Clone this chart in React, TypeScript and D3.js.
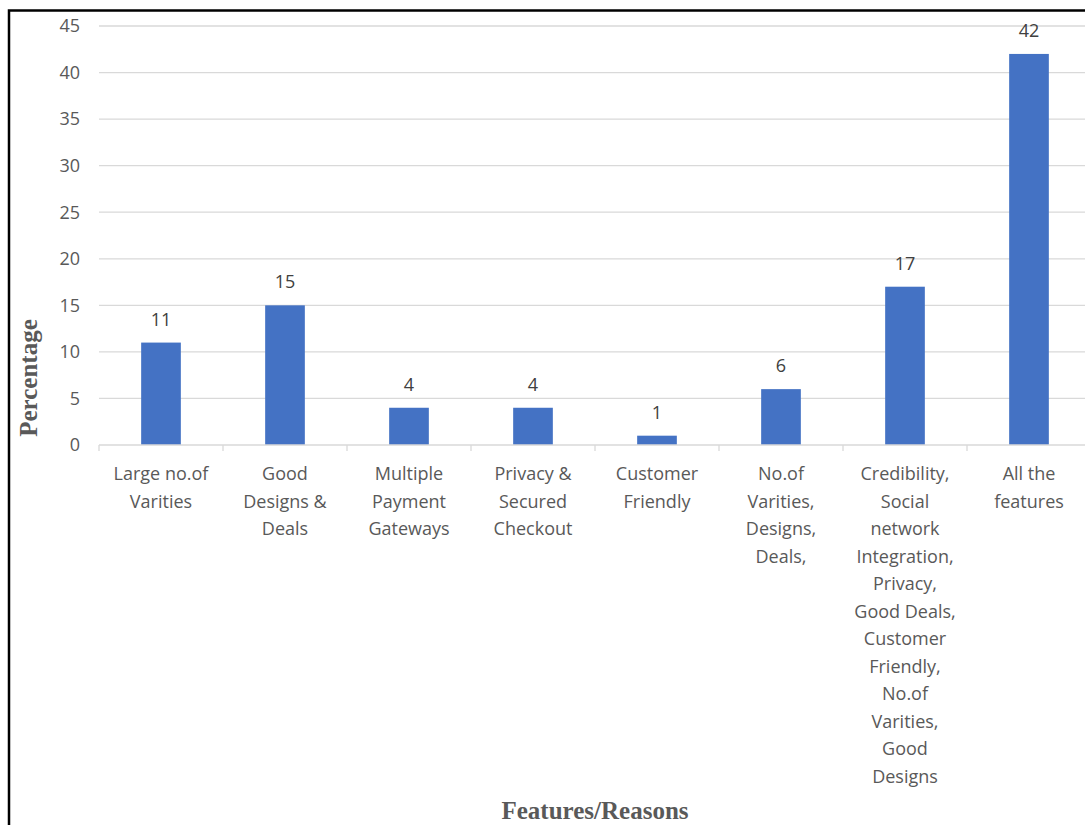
import React, { useRef, useEffect } from 'react';
import * as d3 from 'd3';

const categories = [
  'Large no.of\nVarities',
  'Good\nDesigns &\nDeals',
  'Multiple\nPayment\nGateways',
  'Privacy &\nSecured\nCheckout',
  'Customer\nFriendly',
  'No.of\nVarities,\nDesigns,\nDeals,',
  'Credibility,\nSocial\nnetwork\nIntegration,\nPrivacy,\nGood Deals,\nCustomer\nFriendly,\nNo.of\nVarities,\nGood\nDesigns',
  'All the\nfeatures',
];
const percentages = [11, 15, 4, 4, 1, 6, 17, 42];
const yTicks = [0, 5, 10, 15, 20, 25, 30, 35, 40, 45];

const App: React.FC = () => {
  const svgRef = useRef<SVGSVGElement | null>(null);

  useEffect(() => {
    if (!svgRef.current) return;
    d3.select(svgRef.current).selectAll('*').remove();

    const width = 1085;
    const height = 825;
    const left = 99;
    const right = 1091;
    const top = 26;
    const bottom = 445;
    const labelFont = '"Open Sans", Lato, sans-serif';
    const titleFont = '"Liberation Serif", "Times New Roman", serif';
    const fs = 18;

    const svg = d3.select(svgRef.current).attr('width', width).attr('height', height);

    svg.append('rect').attr('width', width).attr('height', height).attr('fill', '#fff');

    const x = d3
      .scaleBand<number>()
      .domain(d3.range(categories.length))
      .range([left, right])
      .paddingInner(0.68)
      .paddingOuter(0.34);
    const y = d3.scaleLinear().domain([0, 45]).range([bottom, top]);

    // gridlines
    svg
      .append('g')
      .selectAll('line')
      .data(yTicks.slice(1))
      .join('line')
      .attr('x1', left)
      .attr('x2', right)
      .attr('y1', (d) => y(d))
      .attr('y2', (d) => y(d))
      .attr('stroke', '#d9d9d9')
      .attr('stroke-width', 1.3);

    // y tick labels
    svg
      .append('g')
      .selectAll('text')
      .data(yTicks)
      .join('text')
      .attr('x', 80)
      .attr('y', (d) => y(d))
      .attr('dy', '0.35em')
      .attr('text-anchor', 'end')
      .attr('font-family', labelFont)
      .attr('font-size', fs)
      .attr('fill', '#595959')
      .text((d) => d);

    // bars
    svg
      .append('g')
      .selectAll('rect')
      .data(percentages)
      .join('rect')
      .attr('x', (_, i) => x(i) as number)
      .attr('y', (d) => y(d))
      .attr('width', x.bandwidth())
      .attr('height', (d) => y(0) - y(d))
      .attr('fill', '#4472c4');

    // data labels
    svg
      .append('g')
      .selectAll('text')
      .data(percentages)
      .join('text')
      .attr('x', (_, i) => (x(i) as number) + x.bandwidth() / 2)
      .attr('y', (d) => y(d) - 17)
      .attr('text-anchor', 'middle')
      .attr('font-family', labelFont)
      .attr('font-size', fs)
      .attr('fill', '#404040')
      .text((d) => d);

    // x axis line + ticks
    svg
      .append('line')
      .attr('x1', left)
      .attr('x2', right)
      .attr('y1', bottom)
      .attr('y2', bottom)
      .attr('stroke', '#d9d9d9')
      .attr('stroke-width', 1.3);
    const step = (right - left) / categories.length;
    svg
      .append('g')
      .selectAll('line')
      .data(d3.range(categories.length + 1))
      .join('line')
      .attr('x1', (i) => left + i * step)
      .attr('x2', (i) => left + i * step)
      .attr('y1', bottom)
      .attr('y2', bottom + 6)
      .attr('stroke', '#d9d9d9')
      .attr('stroke-width', 1.3);

    // category labels
    const catG = svg
      .append('g')
      .selectAll('text')
      .data(categories)
      .join('text')
      .attr('x', (_, i) => (x(i) as number) + x.bandwidth() / 2)
      .attr('y', 480)
      .attr('text-anchor', 'middle')
      .attr('font-family', labelFont)
      .attr('font-size', fs)
      .attr('fill', '#595959');
    catG
      .selectAll('tspan')
      .data((d, i) => d.split('\n').map((line) => ({ line, i })))
      .join('tspan')
      .attr('x', (d) => (x(d.i) as number) + x.bandwidth() / 2)
      .attr('dy', (_, j) => (j === 0 ? 0 : 27.5))
      .text((d) => d.line);

    // axis titles
    svg
      .append('text')
      .attr('transform', `translate(37,378) rotate(-90)`)
      .attr('text-anchor', 'middle')
      .attr('font-family', titleFont)
      .attr('font-weight', 'bold')
      .attr('font-size', 25)
      .attr('fill', '#595959')
      .text('Percentage');

    svg
      .append('text')
      .attr('x', 595)
      .attr('y', 819)
      .attr('text-anchor', 'middle')
      .attr('font-family', titleFont)
      .attr('font-weight', 'bold')
      .attr('font-size', 25)
      .attr('fill', '#595959')
      .text('Features/Reasons');

    // outer border (left and top visible)
    svg
      .append('rect')
      .attr('x', 9)
      .attr('y', 10.5)
      .attr('width', 1100)
      .attr('height', 830)
      .attr('fill', 'none')
      .attr('stroke', '#000')
      .attr('stroke-width', 2.5);
  }, []);

  return (
    <svg
      ref={svgRef}
      style={{ position: 'absolute', left: 0, top: 0, display: 'block' }}
    ></svg>
  );
};

export default App;
